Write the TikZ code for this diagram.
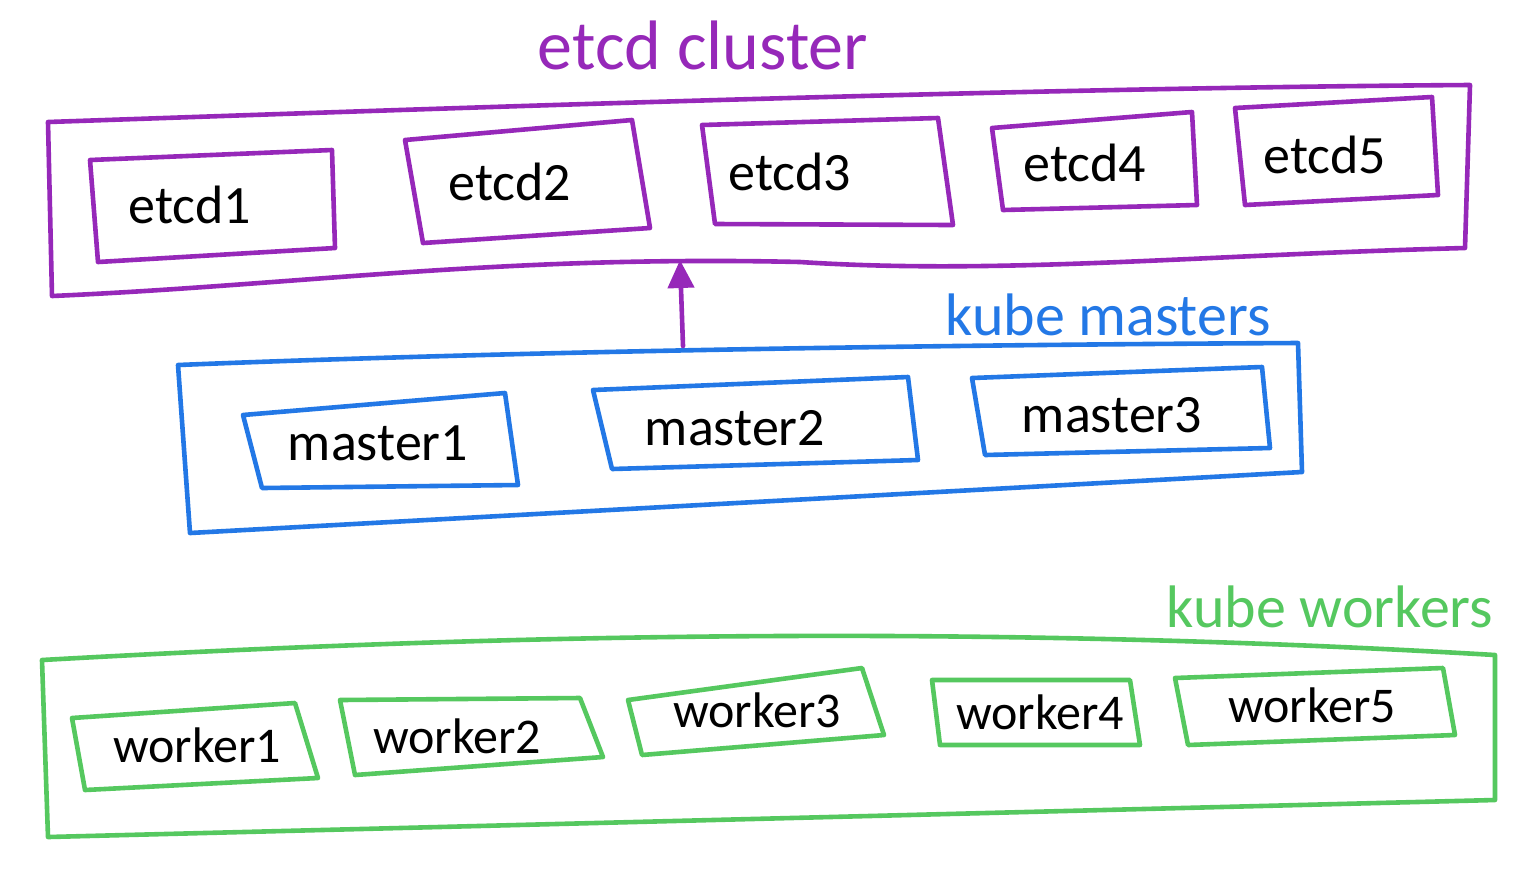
\documentclass[tikz,border=0pt]{standalone}
\usepackage{fontspec}
\setmainfont{Carlito}
\usetikzlibrary{arrows.meta}
\definecolor{cpurple}{RGB}{150,40,185}
\definecolor{cblue}{RGB}{35,120,230}
\definecolor{cgreen}{RGB}{85,200,95}
\tikzset{
  crayon/.style={line width=2.3pt, line join=round, line cap=round},
  lbl/.style={font=\fontsize{27}{30}\selectfont, text=black, inner sep=0pt},
  wlbl/.style={font=\fontsize{25}{28}\selectfont, text=black, inner sep=0pt},
  title/.style={font=\fontsize{30}{34}\selectfont, inner sep=0pt},
}
\begin{document}
\begin{tikzpicture}[x=0.5pt,y=-0.5pt]
\useasboundingbox[fill=white] (0,0) rectangle (1536,880);

% ---------- etcd cluster ----------
\node[title, text=cpurple, font=\fontsize{35}{38}\selectfont] (etcdtitle) at (703,45) {etcd cluster};
\draw[crayon, cpurple] (48,122) .. controls (400,110) and (1000,88) .. (1470,85) -- (1465,248)
  .. controls (1200,255) and (1000,275) .. (800,262) .. controls (500,255) and (300,285) .. (52,296) -- cycle;

\draw[crayon, cpurple] (90,160) -- (332,150) -- (335,248) -- (98,262) -- cycle;
\node[lbl] (etcd1) at (190,205) {etcd1};
\draw[crayon, cpurple] (405,140) -- (632,120) -- (650,228) -- (423,243) -- cycle;
\node[lbl] (etcd2) at (510,182) {etcd2};
\draw[crayon, cpurple] (702,125) -- (938,118) -- (953,225) -- (715,224) -- cycle;
\node[lbl] (etcd3) at (790,172) {etcd3};
\draw[crayon, cpurple] (992,128) -- (1192,112) -- (1197,205) -- (1003,210) -- cycle;
\node[lbl] (etcd4) at (1085,163) {etcd4};
\draw[crayon, cpurple] (1235,108) -- (1432,97) -- (1438,195) -- (1245,205) -- cycle;
\node[lbl] (etcd5) at (1325,155) {etcd5};

% ---------- kube masters ----------
\node[title, text=cblue] (mtitle) at (1108,315) {kube masters};
\draw[crayon, cblue] (178,365) .. controls (500,352) and (900,345) .. (1298,343) -- (1302,472) -- (190,533) -- cycle;

\draw[crayon, cblue] (243,415) -- (505,393) -- (518,485) -- (262,488) -- cycle;
\node[lbl] (master1) at (378,443) {master1};
\draw[crayon, cblue] (593,390) -- (908,377) -- (918,460) -- (612,469) -- cycle;
\node[lbl] (master2) at (735,428) {master2};
\draw[crayon, cblue] (972,378) -- (1262,367) -- (1270,448) -- (985,455) -- cycle;
\node[lbl] (master3) at (1112,415) {master3};

% arrow masters -> etcd
\coordinate (mtop) at (683,346);
\coordinate (etop) at (680,260);
\draw[crayon, cpurple, -{Triangle[length=14pt,width=13pt]}] (mtop) -- (etop);

% ---------- kube workers ----------
\node[title, text=cgreen] (wtitle) at (1330,607) {kube workers};
\draw[crayon, cgreen] (42,660) .. controls (400,640) and (900,620) .. (1495,655) -- (1495,800) -- (48,837) -- cycle;

\draw[crayon, cgreen] (72,718) -- (295,703) -- (318,778) -- (85,790) -- cycle;
\node[wlbl] (worker1) at (197,745) {worker1};
\draw[crayon, cgreen] (340,700) -- (580,698) -- (603,757) -- (355,775) -- cycle;
\node[wlbl] (worker2) at (457,736) {worker2};
\draw[crayon, cgreen] (628,700) -- (862,668) -- (884,735) -- (642,755) -- cycle;
\node[wlbl] (worker3) at (757,710) {worker3};
\draw[crayon, cgreen] (932,680) -- (1130,680) -- (1140,745) -- (940,745) -- cycle;
\node[wlbl] (worker4) at (1040,712) {worker4};
\draw[crayon, cgreen] (1175,678) -- (1443,668) -- (1455,735) -- (1188,745) -- cycle;
\node[wlbl] (worker5) at (1312,705) {worker5};
\end{tikzpicture}
\end{document}
